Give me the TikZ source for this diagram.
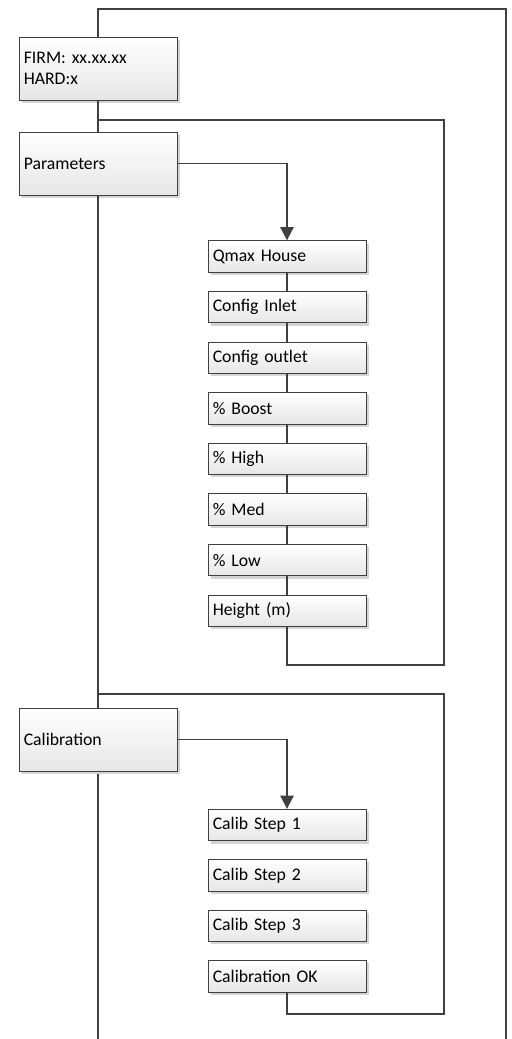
\documentclass[tikz,border=0pt]{standalone}
\usepackage{fontspec}
\setmainfont{Carlito}
\usepackage{tikz}
\usepackage{xcolor}
\usetikzlibrary{arrows.meta,positioning,shadows}
\definecolor{ink}{HTML}{404040}
\definecolor{boxtop}{HTML}{FFFFFF}
\definecolor{boxbot}{HTML}{E6E6E6}
\definecolor{shade}{HTML}{D4D4D4}
\tikzset{
  menubox/.style={draw=ink,line width=0.6pt,top color=boxtop,bottom color=boxbot,
                  minimum width=3.95cm,minimum height=1.575cm,text width=3.71cm,
                  align=left,inner sep=0.12cm,font=\fontsize{12.6}{15}\selectfont,
                  drop shadow={shadow xshift=0.07cm,shadow yshift=-0.07cm,fill=shade,opacity=1}},
  itembox/.style={menubox,minimum height=0.7875cm},
  wire/.style={draw=ink,line width=1.4pt},
  flowarr/.style={wire,-{Triangle[length=0.33cm,width=0.33cm]}}
}

\begin{document}
\begin{tikzpicture}[x=1cm,y=1cm,>=Latex]
  \useasboundingbox (0,0) rectangle (12.775,-25.975);

  % outer menu loop and spine ends
  \coordinate (outerTL) at (2.45,-0.225);
  \coordinate (outerTR) at (12.65,-0.225);
  \coordinate (outerBL) at (2.45,-25.975);
  \coordinate (outerBR) at (12.65,-25.975);
  \coordinate (parL) at (2.45,-3.0);
  \coordinate (parR) at (11.1,-3.0);
  \coordinate (parB) at (11.1,-16.625);
  \coordinate (calL) at (2.45,-17.36);
  \coordinate (calR) at (11.1,-17.36);
  \coordinate (calB) at (11.1,-25.36);

  \draw[wire] (outerBL) -- (outerTL) -- (outerTR) -- (outerBR);

  % main entries
  \node[menubox] (firm) at (2.45,-1.7125) {FIRM: xx.xx.xx\\HARD:x};
  \node[menubox] (par) at (2.45,-4.0875) {Parameters};
  \node[menubox] (cal) at (2.45,-18.4875) {Calibration};

  % parameter items
  \node[itembox] (qmax) at (7.175,-6.4125) {Qmax House};
  \node[itembox] (cfgin) at (7.175,-7.6775) {Config Inlet};
  \node[itembox] (cfgout) at (7.175,-8.9425) {Config outlet};
  \node[itembox] (boost) at (7.175,-10.2075) {\% Boost};
  \node[itembox] (high) at (7.175,-11.4725) {\% High};
  \node[itembox] (med) at (7.175,-12.7375) {\% Med};
  \node[itembox] (low) at (7.175,-14.0025) {\% Low};
  \node[itembox] (height) at (7.175,-15.2675) {Height (m)};

  % calibration items
  \node[itembox] (cstep1) at (7.175,-20.625) {Calib Step 1};
  \node[itembox] (cstep2) at (7.175,-21.885) {Calib Step 2};
  \node[itembox] (cstep3) at (7.175,-23.145) {Calib Step 3};
  \node[itembox] (calok) at (7.175,-24.405) {Calibration OK};

  % spine between entries
  \draw[wire] (firm.south) -- (par.north);
  \draw[wire] (par.south) -- (cal.north);
  \draw[wire] (parL) -- (parR) -- (parB) -| (height.south);
  \draw[wire] (calL) -- (calR) -- (calB) -| (calok.south);

  \draw[flowarr] (par.east) -| (qmax.north);
  \draw[wire] (qmax) -- (cfgin); \draw[wire] (cfgin) -- (cfgout);
  \draw[wire] (cfgout) -- (boost); \draw[wire] (boost) -- (high);
  \draw[wire] (high) -- (med); \draw[wire] (med) -- (low);
  \draw[wire] (low) -- (height);

  \draw[flowarr] (cal.east) -| (cstep1.north);
\end{tikzpicture}
\end{document}
